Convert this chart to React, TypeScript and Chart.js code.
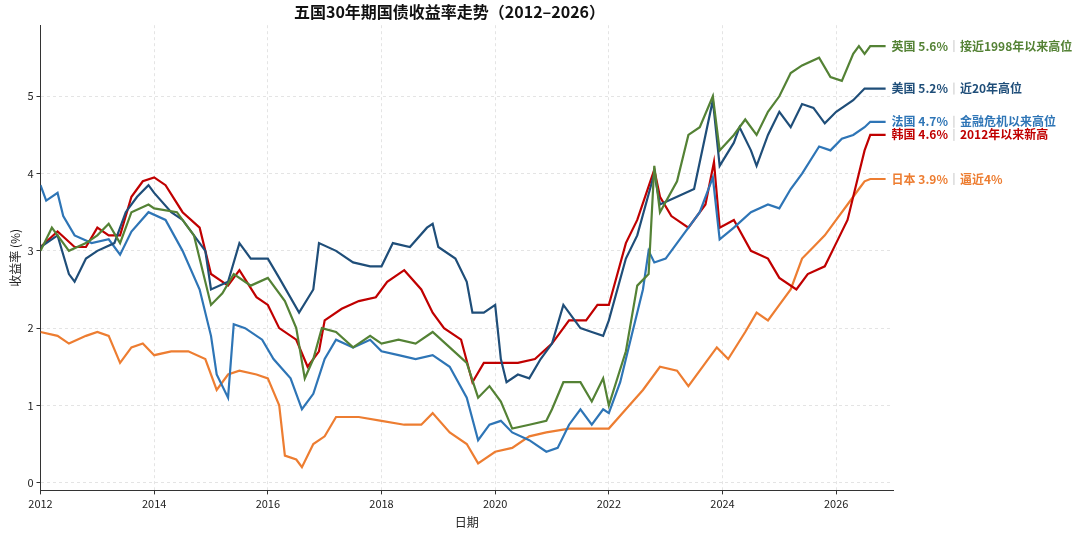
import React, { useEffect, useRef } from "react";
import { Chart, registerables } from "chart.js";
Chart.register(...registerables);

const FONT = "'Noto Sans CJK SC', 'Noto Sans', sans-serif";

const usX = [2012.0,2012.3,2012.5,2012.6,2012.8,2013.0,2013.3,2013.5,2013.7,2013.9,2014.0,2014.3,2014.5,2014.7,2014.9,2015.0,2015.3,2015.5,2015.7,2016.0,2016.2,2016.55,2016.8,2016.9,2017.2,2017.5,2017.8,2018.0,2018.2,2018.5,2018.8,2018.9,2019.0,2019.3,2019.5,2019.6,2019.8,2020.0,2020.1,2020.2,2020.4,2020.6,2020.8,2021.0,2021.2,2021.5,2021.7,2021.9,2022.0,2022.3,2022.5,2022.8,2022.9,2023.2,2023.5,2023.83,2023.95,2024.2,2024.3,2024.5,2024.6,2024.8,2025.0,2025.2,2025.4,2025.6,2025.8,2026.0,2026.3,2026.5,2026.6,2026.87];
const usY = [3.05,3.2,2.7,2.6,2.9,3.0,3.1,3.5,3.7,3.85,3.75,3.5,3.4,3.2,3.0,2.5,2.6,3.1,2.9,2.9,2.65,2.2,2.5,3.1,3.0,2.85,2.8,2.8,3.1,3.05,3.3,3.35,3.05,2.9,2.6,2.2,2.2,2.3,1.6,1.3,1.4,1.35,1.6,1.8,2.3,2.0,1.95,1.9,2.1,2.9,3.2,4.0,3.6,3.7,3.8,4.95,4.1,4.4,4.6,4.3,4.1,4.5,4.8,4.6,4.9,4.85,4.65,4.8,4.95,5.1,5.1,5.1];

const ukX = [2012.0,2012.2,2012.5,2012.8,2013.0,2013.2,2013.4,2013.6,2013.9,2014.0,2014.4,2014.7,2015.0,2015.2,2015.4,2015.7,2016.0,2016.3,2016.5,2016.65,2016.8,2016.95,2017.2,2017.5,2017.8,2018.0,2018.3,2018.6,2018.9,2019.2,2019.5,2019.7,2019.9,2020.1,2020.3,2020.6,2020.9,2021.0,2021.2,2021.5,2021.7,2021.9,2022.0,2022.3,2022.5,2022.7,2022.8,2022.9,2023.2,2023.4,2023.6,2023.83,2023.95,2024.2,2024.4,2024.6,2024.8,2025.0,2025.2,2025.4,2025.7,2025.9,2026.1,2026.3,2026.4,2026.5,2026.6,2026.87];
const ukY = [3.0,3.3,3.0,3.1,3.2,3.35,3.1,3.5,3.6,3.55,3.5,3.2,2.3,2.45,2.7,2.55,2.65,2.35,2.0,1.35,1.6,2.0,1.95,1.75,1.9,1.8,1.85,1.8,1.95,1.75,1.55,1.1,1.25,1.05,0.7,0.75,0.8,0.95,1.3,1.3,1.05,1.35,1.0,1.7,2.55,2.7,4.1,3.5,3.9,4.5,4.6,5.0,4.3,4.5,4.7,4.5,4.8,5.0,5.3,5.4,5.5,5.25,5.2,5.55,5.65,5.55,5.65,5.65];

const frX = [2012.0,2012.1,2012.3,2012.4,2012.6,2012.9,2013.2,2013.4,2013.6,2013.9,2014.2,2014.5,2014.8,2015.0,2015.1,2015.3,2015.4,2015.6,2015.9,2016.1,2016.4,2016.6,2016.8,2017.0,2017.2,2017.5,2017.8,2018.0,2018.3,2018.6,2018.9,2019.2,2019.5,2019.7,2019.9,2020.1,2020.3,2020.6,2020.9,2021.1,2021.3,2021.5,2021.7,2021.9,2022.0,2022.2,2022.4,2022.6,2022.7,2022.8,2023.0,2023.3,2023.6,2023.83,2023.95,2024.2,2024.5,2024.8,2025.0,2025.2,2025.4,2025.7,2025.9,2026.1,2026.3,2026.5,2026.6,2026.87];
const frY = [3.85,3.65,3.75,3.45,3.2,3.1,3.15,2.95,3.25,3.5,3.4,3.0,2.5,1.9,1.4,1.1,2.05,2.0,1.85,1.6,1.35,0.95,1.15,1.6,1.85,1.75,1.85,1.7,1.65,1.6,1.65,1.5,1.1,0.55,0.75,0.8,0.65,0.55,0.4,0.45,0.75,0.95,0.75,0.95,0.9,1.3,1.9,2.5,3.0,2.85,2.9,3.2,3.5,3.95,3.15,3.3,3.5,3.6,3.55,3.8,4.0,4.35,4.3,4.45,4.5,4.6,4.67,4.67];

const krX = [2012.0,2012.3,2012.6,2012.8,2013.0,2013.2,2013.4,2013.6,2013.8,2014.0,2014.2,2014.5,2014.8,2015.0,2015.3,2015.5,2015.8,2016.0,2016.2,2016.5,2016.7,2016.9,2017.0,2017.3,2017.6,2017.9,2018.1,2018.4,2018.7,2018.9,2019.1,2019.4,2019.6,2019.8,2020.1,2020.4,2020.7,2021.0,2021.3,2021.6,2021.8,2022.0,2022.3,2022.5,2022.8,2022.9,2023.1,2023.4,2023.7,2023.85,2023.95,2024.2,2024.5,2024.8,2025.0,2025.3,2025.5,2025.8,2026.0,2026.2,2026.4,2026.5,2026.6,2026.87];
const krY = [3.05,3.25,3.05,3.05,3.3,3.2,3.2,3.7,3.9,3.95,3.85,3.5,3.3,2.7,2.55,2.75,2.4,2.3,2.0,1.85,1.5,1.7,2.1,2.25,2.35,2.4,2.6,2.75,2.5,2.2,2.0,1.85,1.3,1.55,1.55,1.55,1.6,1.8,2.1,2.1,2.3,2.3,3.1,3.4,4.05,3.7,3.45,3.3,3.6,4.15,3.3,3.4,3.0,2.9,2.65,2.5,2.7,2.8,3.1,3.4,4.0,4.3,4.5,4.5];

const jpX = [2012.0,2012.3,2012.5,2012.8,2013.0,2013.2,2013.4,2013.6,2013.8,2014.0,2014.3,2014.6,2014.9,2015.1,2015.3,2015.5,2015.8,2016.0,2016.2,2016.3,2016.5,2016.6,2016.8,2017.0,2017.2,2017.6,2018.0,2018.4,2018.7,2018.9,2019.2,2019.5,2019.7,2020.0,2020.3,2020.6,2020.9,2021.3,2021.7,2022.0,2022.3,2022.6,2022.9,2023.2,2023.4,2023.7,2023.9,2024.1,2024.4,2024.6,2024.8,2025.0,2025.2,2025.4,2025.6,2025.8,2026.0,2026.2,2026.4,2026.5,2026.6,2026.87];
const jpY = [1.95,1.9,1.8,1.9,1.95,1.9,1.55,1.75,1.8,1.65,1.7,1.7,1.6,1.2,1.4,1.45,1.4,1.35,1.0,0.35,0.3,0.2,0.5,0.6,0.85,0.85,0.8,0.75,0.75,0.9,0.65,0.5,0.25,0.4,0.45,0.6,0.65,0.7,0.7,0.7,0.95,1.2,1.5,1.45,1.25,1.55,1.75,1.6,1.95,2.2,2.1,2.3,2.5,2.9,3.05,3.2,3.4,3.6,3.8,3.9,3.93,3.93];

const names = ["英国", "美国", "法国", "韩国", "日本"];
const latest = ["5.6%", "5.2%", "4.7%", "4.6%", "3.9%"];
const notes = ["接近1998年以来高位", "近20年高位", "金融危机以来高位", "2012年以来新高", "逼近4%"];
const colors = ["#548235", "#1f4e79", "#2e75b6", "#c00000", "#ed7d31"];
const xs = [ukX, usX, frX, krX, jpX];
const ys = [ukY, usY, frY, krY, jpY];

export default function App() {
  const ref = useRef<HTMLCanvasElement>(null);
  useEffect(() => {
    document.body.style.margin = "0";
    const labelPlugin = {
      id: "endLabels",
      afterDatasetsDraw(chart: any) {
        const ctx = chart.ctx;
        ctx.save();
        ctx.textBaseline = "middle";
        chart.data.datasets.forEach((ds: any, i: number) => {
          const meta = chart.getDatasetMeta(i);
          const pt = meta.data[meta.data.length - 1];
          const x = pt.x + 6;
          const y = pt.y;
          ctx.font = `bold 12px ${FONT}`;
          ctx.fillStyle = colors[i];
          const t1 = `${names[i]} ${latest[i]}`;
          ctx.fillText(t1, x, y);
          const w1 = ctx.measureText(t1).width;
          ctx.strokeStyle = "#c8c8c8";
          ctx.lineWidth = 1;
          ctx.beginPath();
          ctx.moveTo(x + w1 + 6, y - 6);
          ctx.lineTo(x + w1 + 6, y + 6);
          ctx.stroke();
          ctx.fillText(notes[i], x + w1 + 12, y);
        });
        ctx.restore();
      },
    };
    const chart = new Chart(ref.current!, {
      type: "line",
      data: {
        datasets: names.map((n, i) => ({
          label: n,
          data: xs[i].map((x, j) => ({ x, y: ys[i][j] })),
          borderColor: colors[i],
          borderWidth: 2.2,
          pointRadius: 0,
          tension: 0,
        })),
      },
      options: {
        animation: false,
        responsive: false,
        layout: { padding: { left: 6, right: 187, top: 0, bottom: 4 } },
        plugins: {
          legend: { display: false },
          tooltip: { enabled: false },
          title: {
            display: true,
            text: "五国30年期国债收益率走势（2012–2026）",
            font: { family: FONT, size: 16, weight: "bold" },
            color: "#111",
            padding: { top: 2, bottom: 4 },
          },
        },
        scales: {
          x: {
            type: "linear",
            min: 2012,
            max: 2027,
            afterBuildTicks: (axis: any) => {
              axis.ticks = [2012, 2014, 2016, 2018, 2020, 2022, 2024, 2026].map((v) => ({ value: v }));
            },
            ticks: {
              callback: (v: any) => String(v),
              font: { family: FONT, size: 11 },
              color: "#222",
              maxRotation: 0,
              autoSkip: false,
            },
            grid: { color: "#e4e4e4", tickColor: "#333", tickLength: 4 } as any,
            border: { display: true, color: "#333", dash: [3, 3] } as any,
            title: { display: true, text: "日期", font: { family: FONT, size: 12 }, color: "#222", padding: 2 },
          },
          y: {
            min: -0.1,
            max: 5.92,
            afterBuildTicks: (axis: any) => {
              axis.ticks = [0, 1, 2, 3, 4, 5].map((v) => ({ value: v }));
            },
            ticks: { font: { family: FONT, size: 11 }, color: "#222" },
            grid: { color: "#e4e4e4", tickColor: "#333", tickLength: 4 } as any,
            border: { display: true, color: "#333", dash: [3, 3] } as any,
            title: { display: true, text: "收益率 (%)", font: { family: FONT, size: 12 }, color: "#222", padding: 2 },
          },
        },
      } as any,
      plugins: [labelPlugin],
    });
    return () => chart.destroy();
  }, []);
  return <canvas ref={ref} width={1080} height={536} style={{ display: "block" }} />;
}
